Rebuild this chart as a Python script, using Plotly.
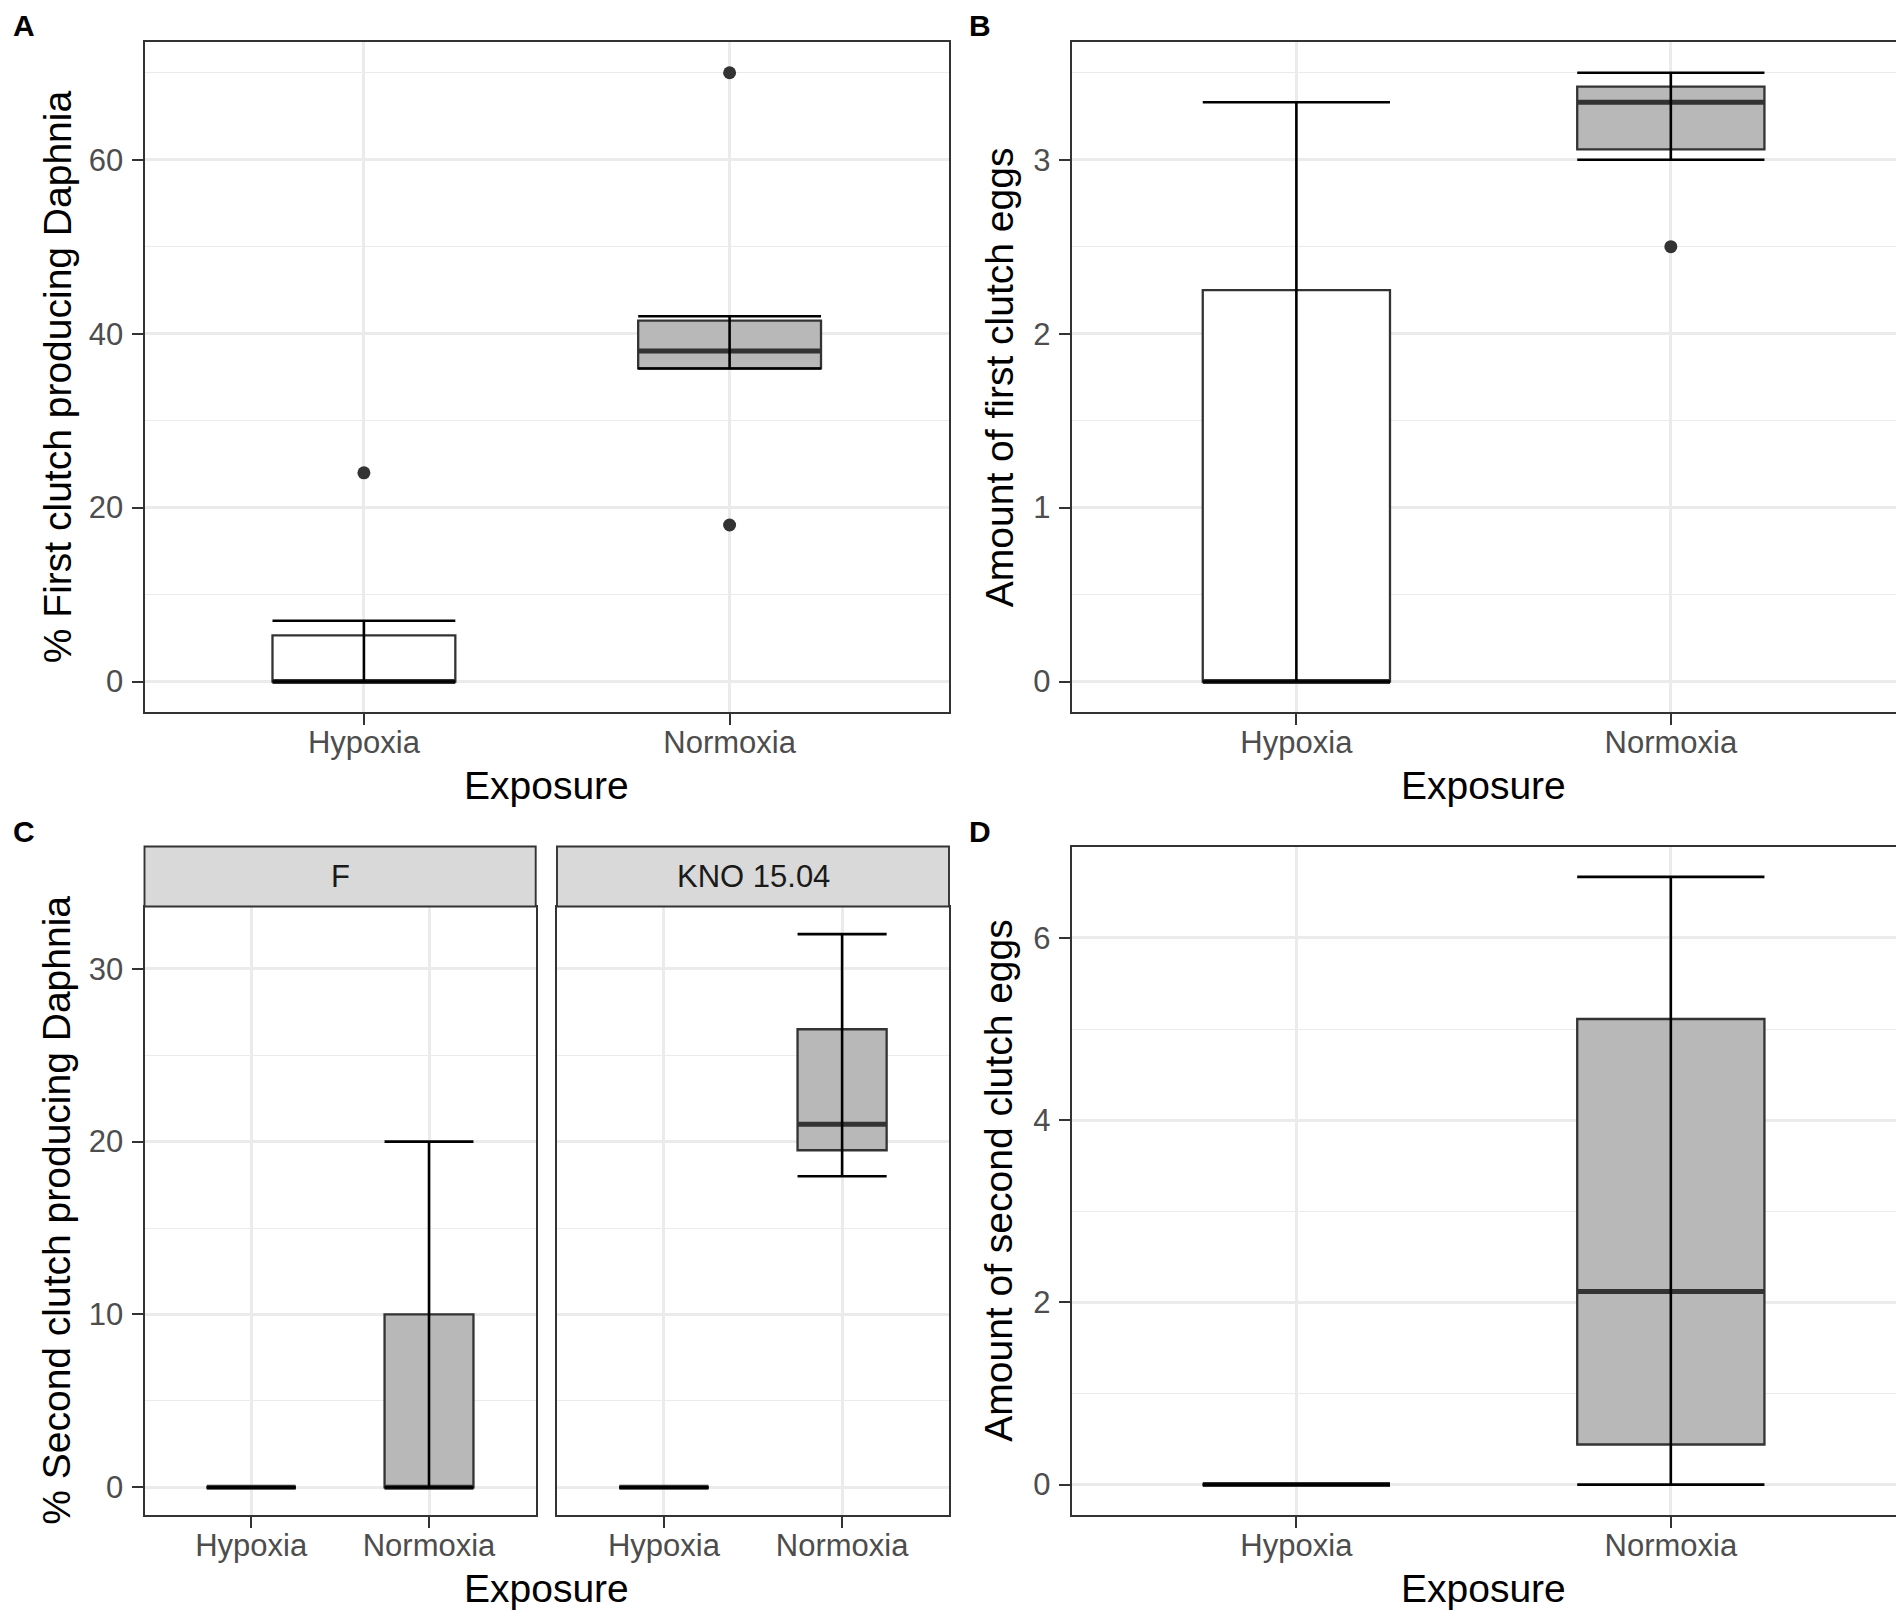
import plotly.graph_objects as go

# page body has an 8px margin: figure is offset by OFF px on the page
OFF = 8
PAGE_W, PAGE_H = 1904, 1617
W, H = PAGE_W - OFF, PAGE_H - OFF

# ---------------- data ----------------
groups = ["Hypoxia", "Normoxia"]
group_pos = [1, 2]

# Panel A: % first clutch producing Daphnia
A_q1 = [0, 36]
A_med = [0, 38]
A_q3 = [5.3, 41.5]
A_lo = [0, 36]
A_hi = [7, 42]
A_out = [[24], [70, 18]]

# Panel B: amount of first clutch eggs
B_q1 = [0, 3.06]
B_med = [0, 3.33]
B_q3 = [2.25, 3.42]
B_lo = [0, 3.0]
B_hi = [3.33, 3.5]
B_out = [[], [2.5]]

# Panel C: % second clutch producing Daphnia, facets F and KNO 15.04
facets = ["F", "KNO 15.04"]
CF_q1 = [0, 0]
CF_med = [0, 0]
CF_q3 = [0, 10]
CF_lo = [0, 0]
CF_hi = [0, 20]
CF_out = [[], []]
CK_q1 = [0, 19.5]
CK_med = [0, 21]
CK_q3 = [0, 26.5]
CK_lo = [0, 18]
CK_hi = [0, 32]
CK_out = [[], []]

# Panel D: amount of second clutch eggs
D_q1 = [0, 0.44]
D_med = [0, 2.12]
D_q3 = [0, 5.11]
D_lo = [0, 0]
D_hi = [0, 6.67]
D_out = [[], []]

fills = ["#FFFFFF", "#B8B8B8"]

# ---------------- styling ----------------
FONT = "Liberation Sans, Arial, sans-serif"
TICK_SIZE = 31
TITLE_SIZE = 39
BOX_W = 0.5


def fx(px):
    return (px - OFF) / W


def fy(py):
    return 1 - (py - OFF) / H


fig = go.Figure()


def add_panel(xa, ya, q1, med, q3, lo, hi, outs):
    xr = "x" if xa == 1 else f"x{xa}"
    yr = "y" if ya == 1 else f"y{ya}"
    for i, p in enumerate(group_pos):
        fig.add_trace(go.Box(
            x=[p], q1=[q1[i]], median=[med[i]], q3=[q3[i]],
            lowerfence=[q1[i]], upperfence=[q3[i]],
            width=BOX_W, fillcolor=fills[i],
            line=dict(color="#333333", width=2.3),
            boxpoints=False, showlegend=False, hoverinfo="skip",
            xaxis=xr, yaxis=yr))
        # median (fattened)
        fig.add_trace(go.Scatter(
            x=[p - BOX_W / 2, p + BOX_W / 2], y=[med[i], med[i]],
            mode="lines", line=dict(color="#333333", width=5),
            showlegend=False, hoverinfo="skip", xaxis=xr, yaxis=yr))
        # errorbar whiskers
        fig.add_trace(go.Scatter(
            x=[p - BOX_W / 2, p + BOX_W / 2, None, p, p, None,
               p - BOX_W / 2, p + BOX_W / 2],
            y=[hi[i], hi[i], None, hi[i], lo[i], None, lo[i], lo[i]],
            mode="lines", line=dict(color="#000000", width=2.6),
            showlegend=False, hoverinfo="skip", xaxis=xr, yaxis=yr))
        if outs[i]:
            fig.add_trace(go.Scatter(
                x=[p] * len(outs[i]), y=outs[i], mode="markers",
                marker=dict(color="#333333", size=13),
                showlegend=False, hoverinfo="skip", xaxis=xr, yaxis=yr))


add_panel(1, 1, A_q1, A_med, A_q3, A_lo, A_hi, A_out)
add_panel(2, 2, B_q1, B_med, B_q3, B_lo, B_hi, B_out)
add_panel(3, 3, CF_q1, CF_med, CF_q3, CF_lo, CF_hi, CF_out)
add_panel(4, 4, CK_q1, CK_med, CK_q3, CK_lo, CK_hi, CK_out)
add_panel(5, 5, D_q1, D_med, D_q3, D_lo, D_hi, D_out)


def yrange(*arrs):
    vals = []
    for a in arrs:
        for v in a:
            if isinstance(v, list):
                vals.extend(v)
            else:
                vals.append(v)
    lo, hi = min(vals), max(vals)
    pad = 0.05 * (hi - lo)
    return [lo - pad, hi + pad]


rA = yrange(A_q1, A_hi, A_lo, A_out)
rB = yrange(B_q1, B_hi, B_lo, B_out)
rC = yrange(CF_lo, CF_hi, CK_lo, CK_hi)
rD = yrange(D_lo, D_hi)

# domains (page pixels -> paper)
dom_top = [fy(712), fy(42.3)]
dom_cplot = [fy(1515), fy(906.5)]
dom_d = [fy(1515), fy(846.5)]
xdA = [fx(144.5), fx(949)]
xdB = [fx(1071.7), fx(1895.5)]
xdC1 = [fx(144.5), fx(535.7)]
xdC2 = [fx(557), fx(949)]

common_x = dict(
    range=[0.4, 2.6], tickvals=group_pos, ticktext=groups,
    showgrid=True, gridcolor="#EBEBEB", gridwidth=2.6, zeroline=False,
    showline=True, mirror=True, linecolor="#333333", linewidth=1.9,
    ticks="outside", ticklen=11, tickwidth=2.4, tickcolor="#333333",
    tickfont=dict(family=FONT, size=TICK_SIZE, color="#4D4D4D"),
    ticklabelstandoff=-9, fixedrange=True, automargin=False,
)


def yaxis_cfg(rng, dtick, show=True):
    d = dict(
        range=rng, tick0=0, dtick=dtick,
        showgrid=True, gridcolor="#EBEBEB", gridwidth=2.6, zeroline=False,
        minor=dict(showgrid=True, gridcolor="#EBEBEB", gridwidth=1.3,
                   dtick=dtick / 2, tick0=0),
        showline=True, mirror=True, linecolor="#333333", linewidth=1.9,
        tickfont=dict(family=FONT, size=TICK_SIZE, color="#4D4D4D"),
        fixedrange=True, automargin=False,
    )
    if show:
        d.update(ticks="outside", ticklen=11, tickwidth=2.4,
                 tickcolor="#333333", ticklabelstandoff=2)
    else:
        d.update(ticks="", showticklabels=False)
    return d


fig.update_layout(
    width=W, height=H,
    margin=dict(l=0, r=0, t=0, b=0, autoexpand=False),
    paper_bgcolor="white", plot_bgcolor="white",
    boxmode="overlay",
    xaxis=dict(common_x, domain=xdA, anchor="y"),
    yaxis=dict(yaxis_cfg(rA, 20), domain=dom_top, anchor="x"),
    xaxis2=dict(common_x, domain=xdB, anchor="y2"),
    yaxis2=dict(yaxis_cfg(rB, 1), domain=dom_top, anchor="x2"),
    xaxis3=dict(common_x, domain=xdC1, anchor="y3"),
    yaxis3=dict(yaxis_cfg(rC, 10), domain=dom_cplot, anchor="x3"),
    xaxis4=dict(common_x, domain=xdC2, anchor="y4"),
    yaxis4=dict(yaxis_cfg(rC, 10, show=False), domain=dom_cplot, anchor="x4"),
    xaxis5=dict(common_x, domain=xdB, anchor="y5"),
    yaxis5=dict(yaxis_cfg(rD, 2), domain=dom_d, anchor="x5"),
)

# facet strips
for xd, lab in zip([xdC1, xdC2], facets):
    fig.add_shape(type="rect", xref="paper", yref="paper",
                  x0=xd[0], x1=xd[1], y0=fy(906.5), y1=fy(846.5),
                  fillcolor="#D9D9D9", line=dict(color="#333333", width=1.9),
                  layer="above")
    fig.add_annotation(x=(xd[0] + xd[1]) / 2, y=fy(876.5), xref="paper",
                       yref="paper", text=lab, showarrow=False,
                       xanchor="center", yanchor="middle",
                       font=dict(family=FONT, size=TICK_SIZE, color="#1A1A1A"))

# panel letters
for lab, (px, py) in zip(["A", "B", "C", "D"],
                         [(24, 25), (980, 25), (24, 831), (980, 831)]):
    fig.add_annotation(x=fx(px), y=fy(py), xref="paper", yref="paper",
                       text=f"<b>{lab}</b>", showarrow=False,
                       xanchor="center", yanchor="middle",
                       font=dict(family=FONT, size=30, color="#000000"))

# x axis titles
for xd, py in [(xdA, 785), (xdB, 785), (xdA, 1588), (xdB, 1588)]:
    fig.add_annotation(x=(xd[0] + xd[1]) / 2, y=fy(py), xref="paper",
                       yref="paper", text="Exposure", showarrow=False,
                       xanchor="center", yanchor="middle",
                       font=dict(family=FONT, size=TITLE_SIZE, color="#000000"))

# y axis titles
ytitles = [
    ("% First clutch producing Daphnia", 57, (42.3 + 712) / 2),
    ("Amount of first clutch eggs", 999, (42.3 + 712) / 2),
    ("% Second clutch producing Daphnia", 57, (906.5 + 1515) / 2),
    ("Amount of second clutch eggs", 999, (846.5 + 1515) / 2),
]
for txt, px, py in ytitles:
    fig.add_annotation(x=fx(px), y=fy(py), xref="paper", yref="paper",
                       text=txt, showarrow=False, textangle=-90,
                       xanchor="center", yanchor="middle",
                       font=dict(family=FONT, size=TITLE_SIZE, color="#000000"))

fig.write_html("out.html")
